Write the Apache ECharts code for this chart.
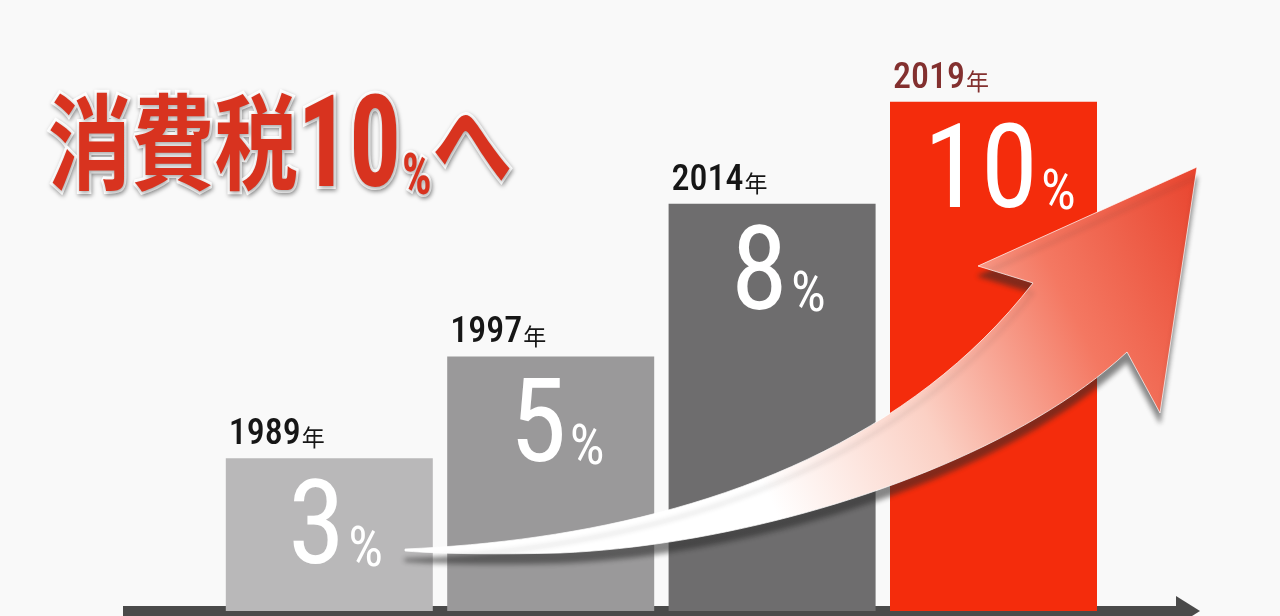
<!DOCTYPE html>
<html>
<head>
<meta charset="utf-8">
<script src="https://cdn.jsdelivr.net/npm/echarts@6.0.0/dist/echarts.min.js"></script>
<style>
html,body{margin:0;padding:0;background:#f9f9f9;}
#chart{width:1280px;height:616px;}
</style>
</head>
<body>
<div id="chart"></div>
<script>
// ---- data ----
const years = ['1989', '1997', '2014', '2019'];
const rates = [3, 5, 8, 10];
const titleMain = '消費税';
const titleNum = '10';
const titleTail = 'へ';
const yearSuffix = '年';

// ---- styles ----
const barColors = ['#b9b8b9', '#9a999a', '#6e6d6e', '#f42c0c'];
const yearColors = ['#161616', '#161616', '#161616', '#83302f'];
const NARROW = "'Liberation Sans Narrow','Roboto Condensed','DejaVu Sans Condensed','Liberation Sans',sans-serif";
const CJK = "'Noto Sans CJK JP','Noto Sans CJK SC',sans-serif";

// decorative swoosh arrow outline (sampled cubic segments)
function cubic(p0, p1, p2, p3, n) {
  const out = [];
  for (let k = 1; k <= n; k++) {
    const t = k / n, u = 1 - t;
    out.push([
      u*u*u*p0[0] + 3*u*u*t*p1[0] + 3*u*t*t*p2[0] + t*t*t*p3[0],
      u*u*u*p0[1] + 3*u*u*t*p1[1] + 3*u*t*t*p2[1] + t*t*t*p3[1]
    ]);
  }
  return out;
}
const swoosh = [[405, 549]]
  .concat(cubic([405, 549], [620, 540], [880, 480], [1033, 283], 40))
  .concat([[978, 266], [1197, 167], [1160, 413], [1127, 352]])
  .concat(cubic([1127, 352], [1000, 470], [750, 545], [560, 553], 40))
  .concat(cubic([560, 553], [480, 555], [430, 553], [405, 551], 10));

const chart = echarts.init(document.getElementById('chart'), null, {renderer: 'canvas'});

const shadowTxt = {textShadowColor: 'rgba(0,0,0,0.35)', textShadowBlur: 4, textShadowOffsetX: 1, textShadowOffsetY: 2};

const option = {
  backgroundColor: '#f9f9f9',
  animation: false,
  grid: [
    {left: 218.6, right: 175.8, top: 0, bottom: 5},
    {left: 123, right: 92, top: 0, bottom: 5}
  ],
  xAxis: [
    {type: 'category', gridIndex: 0, data: years, axisLine: {show: false}, axisTick: {show: false}, axisLabel: {show: false}},
    {type: 'value', gridIndex: 1, min: 0, max: 1, offset: 6,
     axisLine: {show: true, symbol: ['none', 'triangle'], symbolSize: [30, 24], lineStyle: {color: '#4a4a4a', width: 10, cap: 'butt'}},
     axisTick: {show: false}, axisLabel: {show: false}, splitLine: {show: false}}
  ],
  yAxis: [
    {type: 'value', gridIndex: 0, min: 0, max: 12, show: false},
    {type: 'value', gridIndex: 1, min: 0, max: 1, show: false}
  ],
  series: [
    {
      type: 'bar', xAxisIndex: 0, yAxisIndex: 0, barWidth: 207, barGap: '-100%',
      data: rates.map((v, i) => ({value: v, itemStyle: {color: barColors[i]}})),
      label: {
        show: true, position: ['53%', 14], align: 'center', verticalAlign: 'top',
        formatter: p => '{n|' + p.value + '}{p|%}',
        rich: {
          n: {fontFamily: NARROW, fontSize: 116, color: '#ffffff', verticalAlign: 'bottom', lineHeight: 120},
          p: {fontFamily: NARROW, fontSize: 55, color: '#ffffff', verticalAlign: 'bottom', lineHeight: 120, padding: [0, 0, 13, 3]}
        }
      },
      z: 2
    },
    {
      type: 'bar', xAxisIndex: 0, yAxisIndex: 0, barWidth: 207, barGap: '-100%', silent: true,
      data: rates.map((v, i) => ({
        value: v,
        label: {rich: {
          y: {fontFamily: NARROW, fontSize: 36, fontWeight: 500, color: yearColors[i], verticalAlign: 'bottom', lineHeight: 40},
          s: {fontFamily: CJK, fontSize: 23, fontWeight: 'normal', color: yearColors[i], verticalAlign: 'bottom', lineHeight: 40, padding: [0, 0, 4, 1]}
        }}
      })),
      itemStyle: {color: 'rgba(0,0,0,0)'},
      label: {
        show: true, position: [3, -5], align: 'left', verticalAlign: 'bottom',
        formatter: p => '{y|' + years[p.dataIndex] + '}{s|' + yearSuffix + '}'
      },
      z: 3
    }
  ],
  graphic: [
    {
      type: 'polygon', z: 10, silent: true,
      shape: {points: swoosh},
      style: {
        fill: {type: 'linear', x: 405, y: 560, x2: 1200, y2: 170, global: true,
          colorStops: [
            {offset: 0, color: '#ffffff'}, {offset: 0.4, color: '#ffffff'},
            {offset: 0.6, color: '#fbd0c4'}, {offset: 0.8, color: '#f47862'}, {offset: 1, color: '#e8442e'}
          ]},
        stroke: 'rgba(255,255,255,0.7)', lineWidth: 1,
        shadowColor: 'rgba(40,40,40,0.55)', shadowBlur: 5, shadowOffsetY: 10
      }
    },
    {
      type: 'text', z: 20, silent: true, x: 48, y: 80, scaleX: 0.8,
      style: {
        text: '{a|' + titleMain + '}{b|' + titleNum + '}{c|%}{d|' + titleTail + '}',
        rich: {
          a: Object.assign({fontFamily: CJK, fontWeight: 'bold', fontSize: 104, fill: '#d8331f', stroke: '#ffffff', lineWidth: 6, verticalAlign: 'bottom', lineHeight: 140, padding: [0, 0, 26, 0]}, shadowTxt),
          b: Object.assign({fontFamily: NARROW, fontWeight: 'bold', fontSize: 128, fill: '#d8331f', stroke: '#ffffff', lineWidth: 6, verticalAlign: 'bottom', lineHeight: 140, padding: [0, 0, 2, 0]}, shadowTxt),
          c: Object.assign({fontFamily: NARROW, fontWeight: 'bold', fontSize: 58, fill: '#d8331f', stroke: '#ffffff', lineWidth: 5, verticalAlign: 'bottom', lineHeight: 140, padding: [0, 1, 12, 1]}, shadowTxt),
          d: Object.assign({fontFamily: CJK, fontWeight: 'bold', fontSize: 100, fill: '#d8331f', stroke: '#ffffff', lineWidth: 6, verticalAlign: 'bottom', lineHeight: 140, padding: [0, 0, 26, 0]}, shadowTxt)
        }
      }
    }
  ]
};
chart.setOption(option);
</script>
</body>
</html>
